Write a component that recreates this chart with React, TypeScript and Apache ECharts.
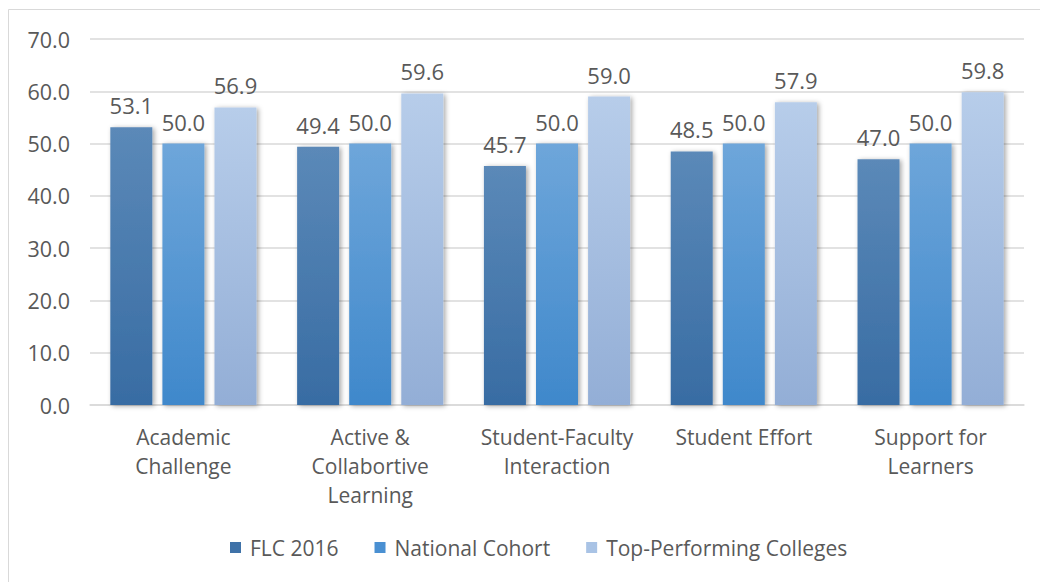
import React, { useEffect, useRef } from "react";
import * as echarts from "echarts";

const categories = [
  "Academic\nChallenge",
  "Active &\nCollabortive\nLearning",
  "Student-Faculty\nInteraction",
  "Student Effort",
  "Support for\nLearners",
];
const seriesNames = ["FLC 2016", "National Cohort", "Top-Performing Colleges"];
const flc2016 = [53.1, 49.4, 45.7, 48.5, 47.0];
const nationalCohort = [50.0, 50.0, 50.0, 50.0, 50.0];
const topPerforming = [56.9, 59.6, 59.0, 57.9, 59.8];

const FONT = "Open Sans";
const TEXT = "#595959";

function grad(top: string, bottom: string) {
  return new echarts.graphic.LinearGradient(0, 0, 0, 1, [
    { offset: 0, color: top },
    { offset: 1, color: bottom },
  ]);
}

export default function App() {
  const ref = useRef<HTMLDivElement>(null);
  useEffect(() => {
    if (!ref.current) return;
    const chart = echarts.init(ref.current, null, { renderer: "svg" });
    const colors = [
      grad("#5b89b8", "#386ca3"),
      grad("#6ea6da", "#3f88cb"),
      grad("#b7cdea", "#93aed6"),
    ];
    const legendColors = ["#3f72a8", "#4a90d2", "#a9c3e5"];
    const datasets = [flc2016, nationalCohort, topPerforming];
    chart.setOption({
      animation: false,
      backgroundColor: "#ffffff",
      textStyle: { fontFamily: FONT },
      graphic: [
        {
          type: "line",
          shape: { x1: 8.5, y1: 9.5, x2: 1040, y2: 9.5 },
          style: { stroke: "#d9d9d9", lineWidth: 1 },
        },
        {
          type: "line",
          shape: { x1: 8.5, y1: 9.5, x2: 8.5, y2: 582 },
          style: { stroke: "#d9d9d9", lineWidth: 1 },
        },
      ],
      legend: {
        bottom: 19,
        left: 225,
        itemWidth: 11,
        itemHeight: 11,
        itemGap: 36,
        icon: "rect",
        textStyle: { fontFamily: FONT, fontSize: 21, color: TEXT, padding: [0, 0, 0, 4] },
        data: seriesNames.map((n, i) => ({
          name: n,
          itemStyle: { color: legendColors[i] },
        })),
      },
      grid: { left: 90, right: 16, top: 39, bottom: 177, containLabel: false },
      xAxis: {
        type: "category",
        data: categories,
        axisLine: { lineStyle: { color: "#d9d9d9", width: 1.5 } },
        axisTick: { show: false },
        axisLabel: {
          fontFamily: FONT,
          fontSize: 21,
          color: TEXT,
          lineHeight: 29,
          margin: 17,
          interval: 0,
        },
      },
      yAxis: {
        type: "value",
        min: 0,
        max: 70,
        interval: 10,
        axisLine: { show: false },
        axisTick: { show: false },
        splitLine: { lineStyle: { color: "#d9d9d9", width: 1.5 } },
        axisLabel: {
          fontFamily: FONT,
          fontSize: 21.5,
          color: TEXT,
          margin: 20,
          formatter: (v: number) => v.toFixed(1),
        },
      },
      series: datasets.map((d, i) => ({
        name: seriesNames[i],
        type: "bar",
        data: d,
        barWidth: 42,
        barGap: "24%",
        itemStyle: {
          color: colors[i],
          shadowColor: "rgba(0,0,0,0.35)",
          shadowBlur: 5,
          shadowOffsetX: 2,
          shadowOffsetY: 1,
        },
        label: {
          show: true,
          position: "top",
          distance: 11,
          fontFamily: FONT,
          fontSize: 22,
          color: TEXT,
          formatter: (p: any) => Number(p.value).toFixed(1),
        },
      })),
    });
    return () => chart.dispose();
  }, []);
  return <div ref={ref} style={{ width: 1040, height: 582, position: "absolute", left: 0, top: 0 }} />;
}
